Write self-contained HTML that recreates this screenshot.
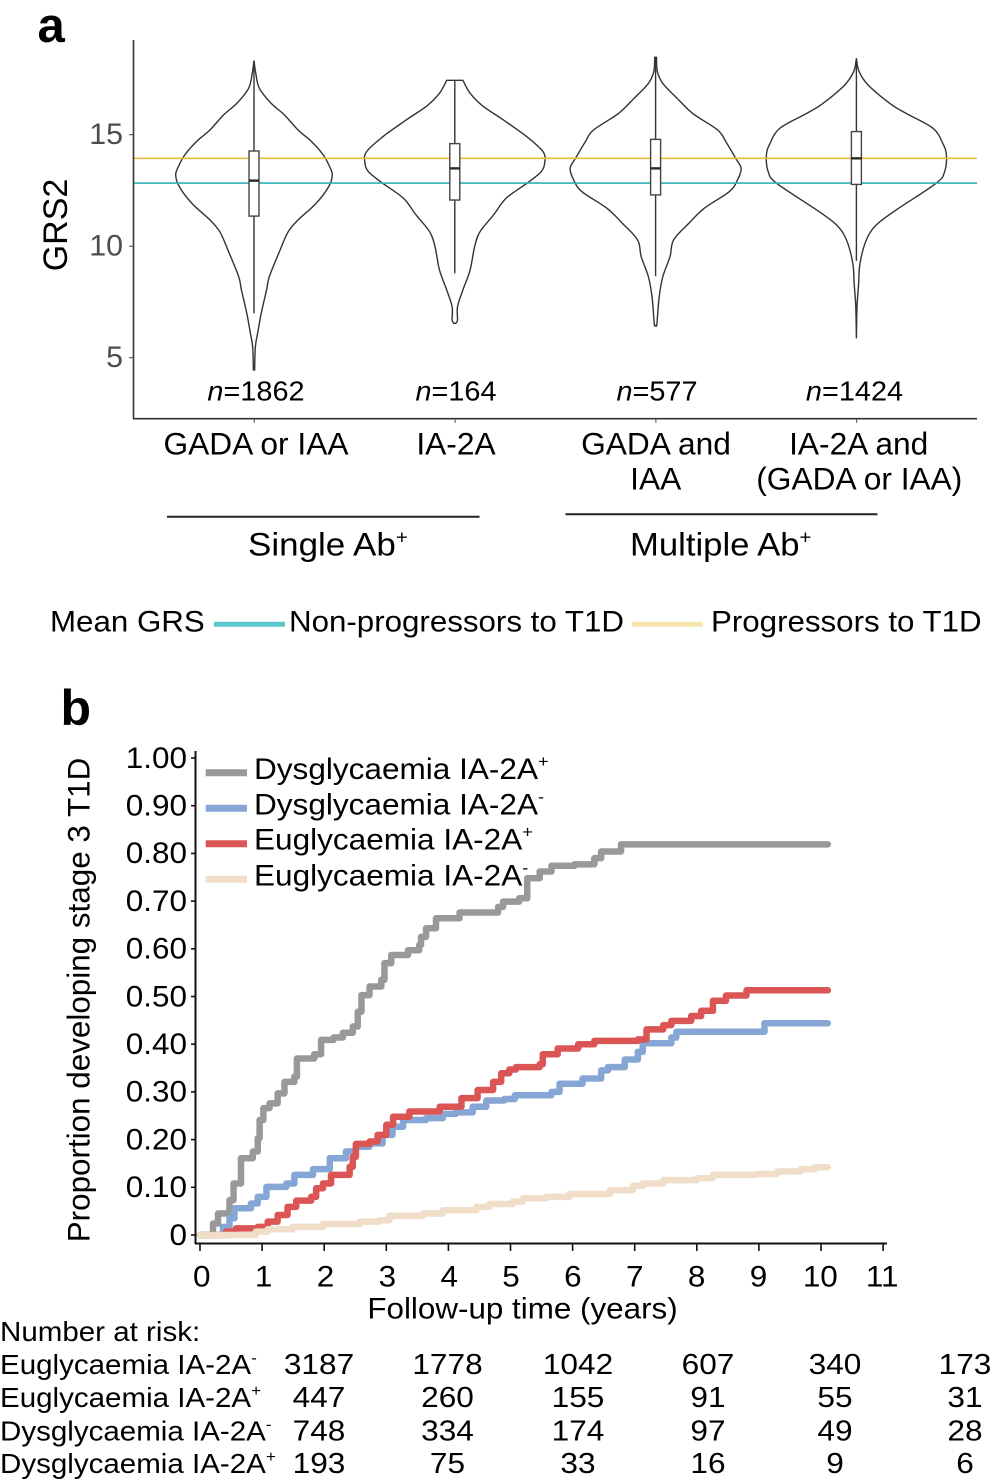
<!DOCTYPE html>
<html lang="en">
<head>
<meta charset="utf-8">
<title>GRS2 violins and progression to stage 3 T1D</title>
<style>
html,body{margin:0;padding:0;background:#fff;}
#figure{display:block;width:992px;height:1481px;}
text{font-family:"Liberation Sans",Arial,sans-serif;fill:#000;}
</style>
</head>
<body>
<svg id="figure" xmlns="http://www.w3.org/2000/svg" width="992" height="1481" viewBox="0 0 992 1481">
  <rect x="0" y="0" width="992" height="1481" fill="#fff"/>

  <text x="37.5" y="42" font-size="49" font-weight="700">a</text>
  <text x="60.5" y="725" font-size="50" font-weight="700">b</text>

  <g id="violin-plot"></g>

  <line x1="133.5" y1="40" x2="133.5" y2="419" stroke="#333" stroke-width="1.6"/>
  <line x1="133" y1="418.7" x2="977" y2="418.7" stroke="#333" stroke-width="1.6"/>
  <text transform="translate(67 225) rotate(-90)" text-anchor="middle" font-size="34">GRS2</text>

  <text transform="translate(256 400.7) scale(1.05 1)" text-anchor="middle" font-size="27.5"><tspan font-style="italic">n</tspan>=1862</text>
  <text transform="translate(456 400.7) scale(1.05 1)" text-anchor="middle" font-size="27.5"><tspan font-style="italic">n</tspan>=164</text>
  <text transform="translate(657 400.7) scale(1.05 1)" text-anchor="middle" font-size="27.5"><tspan font-style="italic">n</tspan>=577</text>
  <text transform="translate(854.5 400.7) scale(1.05 1)" text-anchor="middle" font-size="27.5"><tspan font-style="italic">n</tspan>=1424</text>

  <text transform="translate(256 454.7) scale(1.01 1)" text-anchor="middle" font-size="31.4">GADA or IAA</text>
  <text transform="translate(456 454.7) scale(1.01 1)" text-anchor="middle" font-size="31.4">IA-2A</text>
  <text transform="translate(656 454.7) scale(1.01 1)" text-anchor="middle" font-size="31.4">GADA and</text>
  <text transform="translate(655.7 489.7) scale(1.01 1)" text-anchor="middle" font-size="31.4">IAA</text>
  <text transform="translate(858.7 454.7) scale(1.01 1)" text-anchor="middle" font-size="31.4">IA-2A and</text>
  <text transform="translate(859.3 489.7) scale(1.01 1)" text-anchor="middle" font-size="31.4">(GADA or IAA)</text>

  <line x1="167" y1="516.8" x2="479.5" y2="516.8" stroke="#222" stroke-width="2"/>
  <line x1="565.5" y1="514.3" x2="877.5" y2="514.3" stroke="#222" stroke-width="2"/>
  <text transform="translate(248 555.5) scale(1.08 1)" font-size="32.4">Single Ab<tspan font-size="19" dy="-12">+</tspan></text>
  <text transform="translate(630 555.5) scale(1.07 1)" font-size="32.4">Multiple Ab<tspan font-size="19" dy="-12">+</tspan></text>

  <text transform="translate(50 631.5) scale(1.05 1)" font-size="29.8">Mean GRS</text>
  <line x1="214" y1="624.3" x2="285" y2="624.3" stroke="#5cc6cc" stroke-width="5"/>
  <text transform="translate(289 631.5) scale(1.05 1)" font-size="29.8">Non-progressors to T1D</text>
  <line x1="632" y1="624.3" x2="702.5" y2="624.3" stroke="#f5e6ae" stroke-width="5"/>
  <text transform="translate(711 631.5) scale(1.05 1)" font-size="29.8">Progressors to T1D</text>

  <g id="km-plot"></g>

  <line x1="195.5" y1="751" x2="195.5" y2="1244" stroke="#111" stroke-width="2"/>
  <line x1="195" y1="1243.5" x2="887" y2="1243.5" stroke="#111" stroke-width="2"/>
  <text transform="translate(89.5 1000) rotate(-90)" text-anchor="middle" font-size="31.4">Proportion developing stage 3 T1D</text>
  <text transform="translate(522.5 1318.6) scale(1.06 1)" text-anchor="middle" font-size="29.6">Follow-up time (years)</text>

  <line x1="205.7" y1="772.7" x2="247" y2="772.7" stroke="#999999" stroke-width="7"/>
  <line x1="205.7" y1="808.3" x2="247" y2="808.3" stroke="#86a6d6" stroke-width="7"/>
  <line x1="205.7" y1="843.7" x2="247" y2="843.7" stroke="#dc5555" stroke-width="7"/>
  <line x1="205.7" y1="879.3" x2="247" y2="879.3" stroke="#f1dec8" stroke-width="7"/>
  <text transform="translate(254 778.8) scale(1.07 1)" font-size="29.5">Dysglycaemia IA-2A<tspan font-size="17" dy="-12">+</tspan></text>
  <text transform="translate(254 814.4) scale(1.07 1)" font-size="29.5">Dysglycaemia IA-2A<tspan font-size="17" dy="-12">-</tspan></text>
  <text transform="translate(254 849.6) scale(1.07 1)" font-size="29.5">Euglycaemia IA-2A<tspan font-size="17" dy="-12">+</tspan></text>
  <text transform="translate(254 885.4) scale(1.07 1)" font-size="29.5">Euglycaemia IA-2A<tspan font-size="17" dy="-12">-</tspan></text>

  <text transform="translate(0 1341.2) scale(1.07 1)" font-size="27.6">Number at risk:</text>
  <text transform="translate(0 1373.8) scale(1.07 1)" font-size="27.6">Euglycaemia IA-2A<tspan font-size="16" dy="-11">-</tspan></text>
  <text transform="translate(0 1407.2) scale(1.07 1)" font-size="27.6">Euglycaemia IA-2A<tspan font-size="16" dy="-11">+</tspan></text>
  <text transform="translate(0 1440.5) scale(1.07 1)" font-size="27.6">Dysglycaemia IA-2A<tspan font-size="16" dy="-11">-</tspan></text>
  <text transform="translate(0 1473.2) scale(1.07 1)" font-size="27.6">Dysglycaemia IA-2A<tspan font-size="16" dy="-11">+</tspan></text>
  <g id="risk-table"></g>
</svg>

<script>
// ---------- Panel a data ----------
var violinCategories = ['gada-or-iaa', 'ia2a', 'gada-and-iaa', 'ia2a-and-gada-or-iaa'];
var grsTicks = [15, 10, 5];
var meanNonProgressors = 12.83;
var meanProgressors = 13.94;

var grsGadaOrIaa = [18.32,17.75,17.08,16.41,15.88,15.21,14.69,14.09,13.57,13.19,12.67,11.92,11.18,10.65,9.83,8.63,8.04,6.99,6.09,5.49,4.45];
var densGadaOrIaa = [0,.02,.06,.19,.34,.49,.64,.77,.84,.87,.83,.69,.49,.38,.29,.17,.14,.08,.04,.015,.007];
var grsIa2a = [17.44,16.86,16.29,15.66,14.91,14.24,13.79,13.34,12.82,12.15,11.40,10.65,9.98,8.93,8.04,7.29,6.69,6.54];
var densIa2a = [.09,.17,.31,.54,.80,.98,1.0,.96,.80,.57,.43,.28,.22,.17,.09,.03,.03,.01];
var grsGadaAndIaa = [18.47,17.83,17.30,16.63,15.96,15.21,14.69,13.94,13.49,12.97,12.45,11.70,11.03,10.28,9.53,8.63,7.74,6.54,6.44];
var densGadaAndIaa = [.01,.02,.08,.24,.41,.69,.78,.89,.95,.91,.82,.54,.37,.20,.16,.08,.04,.015,.005];
var grsMultiple = [18.42,17.83,17.23,16.41,15.96,15.29,14.61,14.09,13.34,12.82,11.62,10.95,10.28,9.23,8.33,7.29,5.87];
var densMultiple = [0,.03,.13,.37,.55,.85,.96,1.0,.98,.885,.44,.22,.11,.04,.025,.007,0];

var boxQ1 = [11.35, 12.07, 12.30, 12.77];
var boxMedian = [12.94, 13.49, 13.49, 13.94];
var boxQ3 = [14.27, 14.60, 14.79, 15.14];
var whiskerLow = [6.99, 8.78, 8.66, 9.34];
var whiskerHigh = [18.30, 17.44, 18.47, 18.42];

// ---------- Panel b data ----------
var proportionTicks = ['0','0.10','0.20','0.30','0.40','0.50','0.60','0.70','0.80','0.90','1.00'];
var timeTicks = [0,1,2,3,4,5,6,7,8,9,10,11];

var dysPosTime = [.21,.29,.475,.54,.66,.85,.93,.96,1.02,1.12,1.25,1.36,1.52,1.56,1.84,1.95,2.15,2.30,2.46,2.54,2.60,2.73,2.92,2.97,3.08,3.35,3.53,3.56,3.64,3.80,4.18,4.80,4.88,5.14,5.27,5.47,5.66,6.03,6.35,6.46,6.78,10.11];
var dysPosProp = [.024,.045,.073,.108,.161,.175,.203,.241,.266,.276,.297,.321,.332,.370,.379,.409,.414,.424,.437,.468,.503,.521,.535,.570,.587,.597,.608,.625,.643,.664,.676,.688,.699,.706,.748,.762,.774,.777,.790,.804,.819,.819];
var dysNegTime = [.37,.475,.555,.82,.93,1.07,1.39,1.52,1.82,2.09,2.35,2.51,2.73,2.94,3.10,3.27,3.64,3.91,4.12,4.39,4.61,4.90,5.07,5.66,5.79,6.16,6.46,6.57,6.84,7.05,7.13,7.59,7.67,9.09,10.11];
var dysNegProp = [.017,.035,.056,.066,.080,.101,.108,.126,.138,.161,.175,.185,.192,.210,.227,.241,.245,.254,.257,.269,.282,.285,.293,.300,.317,.328,.345,.352,.368,.384,.402,.414,.426,.444,.444];
var euPosTime = [.42,.58,.93,1.09,1.25,1.41,1.55,1.79,1.87,1.98,2.11,2.41,2.46,2.51,2.73,2.86,3.0,3.11,3.37,3.86,4.21,4.47,4.72,4.85,4.98,5.09,5.47,5.52,5.76,6.09,6.35,7.05,7.19,7.46,7.59,7.91,8.07,8.26,8.47,8.80,10.11];
var euPosProp = [.007,.014,.017,.028,.042,.059,.072,.080,.098,.108,.126,.143,.164,.191,.196,.210,.231,.248,.259,.269,.287,.304,.321,.339,.347,.352,.358,.379,.391,.400,.407,.410,.431,.440,.449,.459,.470,.491,.502,.513,.513];
var euNegTime = [.9,1.09,1.49,1.98,2.57,2.89,3.05,3.59,3.91,4.45,4.66,5.04,5.2,5.58,5.95,6.6,6.97,7.13,7.46,8.0,8.26,8.96,9.29,9.67,9.9,10.11];
var euNegProp = [.007,.012,.017,.023,.028,.031,.040,.045,.052,.059,.065,.070,.077,.080,.086,.094,.103,.108,.115,.119,.126,.128,.133,.138,.142,.142];

var riskTimes = [0, 2, 4, 6, 8, 10];
var riskEuNeg = [3187, 1778, 1042, 607, 340, 173];
var riskEuPos = [447, 260, 155, 91, 55, 31];
var riskDysNeg = [748, 334, 174, 97, 49, 28];
var riskDysPos = [193, 75, 33, 16, 9, 6];

// ---------- Scales ----------
var SVGNS = 'http://www.w3.org/2000/svg';
function yGrs(v) { return 134.7 + (15 - v) * 22.3; }
function xCat(i) { return 254 + i * 200.8; }
function halfWidth(d) { return d * 90; }
function xTime(t) { return 200 + t * 62.1; }
function xTimeLabel(t) { return 201.8 + t * 61.85; }
function yProp(p) { return 1235 - p * 477; }

function mk(parent, tag, attrs) {
  var node = document.createElementNS(SVGNS, tag);
  for (var k in attrs) node.setAttribute(k, attrs[k]);
  parent.appendChild(node);
  return node;
}

// smooth open curve through points (Catmull-Rom)
function smooth(pts) {
  var d = '';
  for (var i = 0; i < pts.length - 1; i++) {
    var p0 = pts[Math.max(i - 1, 0)], p1 = pts[i], p2 = pts[i + 1], p3 = pts[Math.min(i + 2, pts.length - 1)];
    var c1x = p1[0] + (p2[0] - p0[0]) / 6, c1y = p1[1] + (p2[1] - p0[1]) / 6;
    var c2x = p2[0] - (p3[0] - p1[0]) / 6, c2y = p2[1] - (p3[1] - p1[1]) / 6;
    d += ' C' + c1x.toFixed(2) + ' ' + c1y.toFixed(2) + ' ' + c2x.toFixed(2) + ' ' + c2y.toFixed(2) + ' ' + p2[0].toFixed(2) + ' ' + p2[1].toFixed(2);
  }
  return d;
}

// ---------- Panel a ----------
var violinGroup = document.getElementById('violin-plot');
var violinGrs = [grsGadaOrIaa, grsIa2a, grsGadaAndIaa, grsMultiple];
var violinDens = [densGadaOrIaa, densIa2a, densGadaAndIaa, densMultiple];

violinCategories.forEach(function (cat, i) {
  var cx = xCat(i), right = [], left = [];
  violinGrs[i].forEach(function (g, j) {
    var w = halfWidth(violinDens[i][j]);
    right.push([cx + w, yGrs(g)]);
    left.unshift([cx - w, yGrs(g)]);
  });
  var d = 'M' + right[0][0].toFixed(2) + ' ' + right[0][1].toFixed(2) + smooth(right) +
          ' L' + left[0][0].toFixed(2) + ' ' + left[0][1].toFixed(2) + smooth(left) + ' Z';
  var violin = mk(violinGroup, 'path', {d: d, fill: '#fff', stroke: '#333', 'stroke-width': 1.4});
  
  
});

var progLine = mk(violinGroup, 'line', {x1: 134, x2: 977, y1: yGrs(meanProgressors), y2: yGrs(meanProgressors), stroke: '#e8bd3c', 'stroke-width': 1.6});


var nonProgLine = mk(violinGroup, 'line', {x1: 134, x2: 977, y1: yGrs(meanNonProgressors), y2: yGrs(meanNonProgressors), stroke: '#2fb2b8', 'stroke-width': 1.6});



violinCategories.forEach(function (cat, i) {
  var cx = xCat(i);
  var whisker = mk(violinGroup, 'line', {x1: cx, x2: cx, y1: yGrs(whiskerHigh[i]), y2: yGrs(whiskerLow[i]), stroke: '#333', 'stroke-width': 1.4});
  
  
  var box = mk(violinGroup, 'rect', {x: cx - 5, width: 10, y: yGrs(boxQ3[i]), height: yGrs(boxQ1[i]) - yGrs(boxQ3[i]), fill: '#fff', stroke: '#444', 'stroke-width': 1.4});
  
  
  var median = mk(violinGroup, 'line', {x1: cx - 5, x2: cx + 5, y1: yGrs(boxMedian[i]), y2: yGrs(boxMedian[i]), stroke: '#2a2a2a', 'stroke-width': 2.4});
  
  
  var xTick = mk(violinGroup, 'line', {x1: cx + 0.3, x2: cx + 0.3, y1: 419, y2: 423, stroke: '#555', 'stroke-width': 1});
  
  
});

grsTicks.forEach(function (v) {
  var tick = mk(violinGroup, 'line', {x1: 129, x2: 133, y1: yGrs(v), y2: yGrs(v), stroke: '#444', 'stroke-width': 1});
  
  
  var label = mk(violinGroup, 'text', {transform: 'translate(123 ' + (yGrs(v) + 9.3) + ') scale(1.03 1)', 'text-anchor': 'end', 'font-size': 29.5, style: 'fill:#4d4d4d'});
  
  
  label.textContent = v;
});

// ---------- Panel b ----------
var kmGroup = document.getElementById('km-plot');
var kmNames = ['dysglycaemia-ia2a-positive', 'dysglycaemia-ia2a-negative', 'euglycaemia-ia2a-positive', 'euglycaemia-ia2a-negative'];
var kmTimes = [dysPosTime, dysNegTime, euPosTime, euNegTime];
var kmProps = [dysPosProp, dysNegProp, euPosProp, euNegProp];
var kmColors = ['#999999', '#86a6d6', '#dc5555', '#f1dec8'];

kmNames.forEach(function (name, s) {
  var d = 'M' + xTime(0).toFixed(2) + ' ' + yProp(0).toFixed(2);
  kmTimes[s].forEach(function (t, j) {
    d += ' H' + xTime(t).toFixed(2) + ' V' + yProp(kmProps[s][j]).toFixed(2);
  });
  var line = mk(kmGroup, 'path', {d: d, fill: 'none', stroke: kmColors[s], 'stroke-width': 6.5, 'stroke-linejoin': 'round', 'stroke-linecap': 'round'});
  
  
});

proportionTicks.forEach(function (lab) {
  var y = yProp(parseFloat(lab));
  var tick = mk(kmGroup, 'line', {x1: 191, x2: 195, y1: y, y2: y, stroke: '#111', 'stroke-width': 1.6});
  
  
  var label = mk(kmGroup, 'text', {transform: 'translate(187 ' + (y + 9.8) + ') scale(1.07 1)', 'text-anchor': 'end', 'font-size': 29.4});
  
  
  label.textContent = lab;
});

timeTicks.forEach(function (t) {
  var x = xTime(t);
  var tick = mk(kmGroup, 'line', {x1: x, x2: x, y1: 1243, y2: 1251, stroke: '#111', 'stroke-width': 1.6});
  
  
  var label = mk(kmGroup, 'text', {transform: 'translate(' + xTimeLabel(t) + ' 1286.5) scale(1.07 1)', 'text-anchor': 'middle', 'font-size': 29.4});
  
  
  label.textContent = t;
});

// ---------- Number at risk ----------
var riskGroup = document.getElementById('risk-table');
var riskRows = [riskEuNeg, riskEuPos, riskDysNeg, riskDysPos];
var riskRowNames = ['euglycaemia-negative', 'euglycaemia-positive', 'dysglycaemia-negative', 'dysglycaemia-positive'];
var riskBaselines = [1373.8, 1407.2, 1440.5, 1473.2];
var riskColumnX = [319, 447.5, 578, 708, 835, 965];

riskRows.forEach(function (row, r) {
  row.forEach(function (n, c) {
    var cell = mk(riskGroup, 'text', {transform: 'translate(' + riskColumnX[c] + ' ' + riskBaselines[r] + ') scale(1.09 1)', 'text-anchor': 'middle', 'font-size': 29});
    
    
    cell.textContent = n;
  });
});
</script>
</body>
</html>
